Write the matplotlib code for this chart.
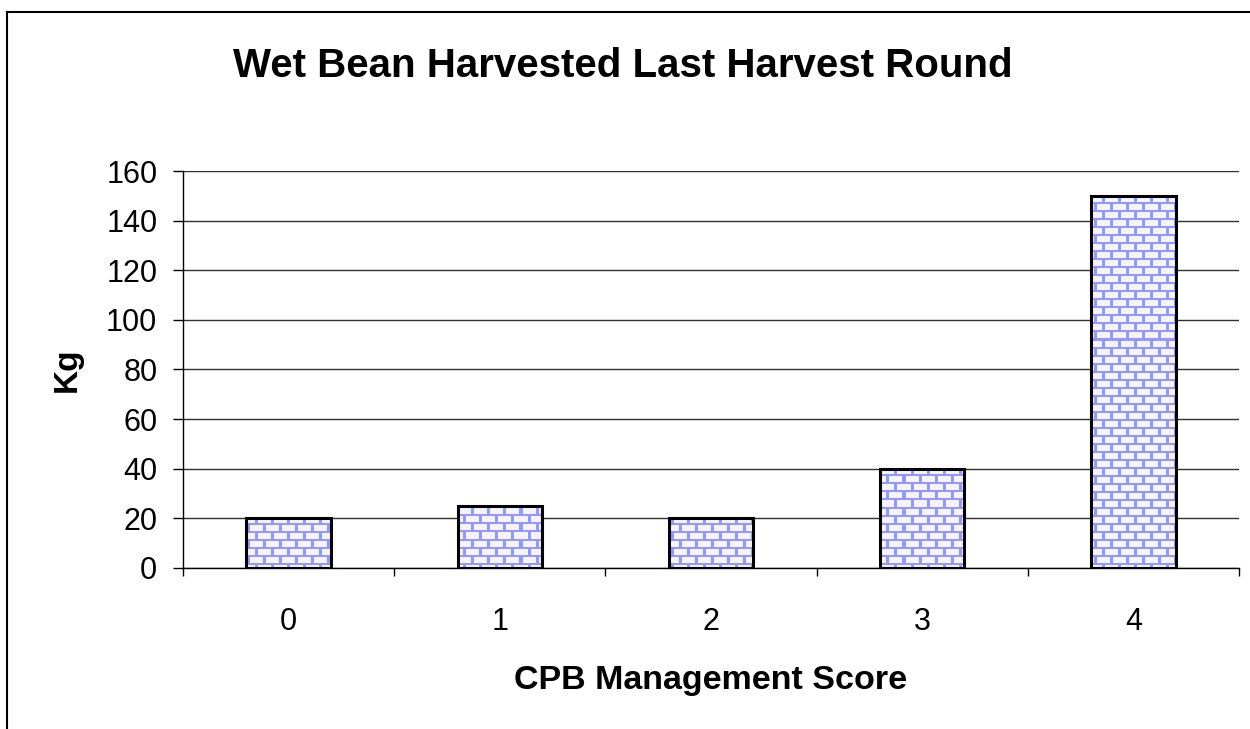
import numpy as np
import matplotlib
matplotlib.use("Agg")
import matplotlib.pyplot as plt
from matplotlib.lines import Line2D

# data
scores = ["0", "1", "2", "3", "4"]
kg = [20, 25, 20, 40, 150]
yticks = [0, 20, 40, 60, 80, 100, 120, 140, 160]

plt.rcParams['font.family'] = ['Liberation Sans', 'DejaVu Sans']

fig = plt.figure(figsize=(12.5, 7.29), dpi=100)
ax = fig.add_axes([0.1464, 0.2209, 0.8448, 0.5445])

x = np.arange(len(scores))
bars = ax.bar(x, kg, width=0.4, facecolor='none', edgecolor='black', linewidth=2.2, zorder=3)

# brick pattern as an image, clipped to each bar
H, W = 397, 1057
tile = np.ones((H, W, 3))
brick = np.array([244, 244, 255]) / 255.0
mortar = np.array([150, 150, 255]) / 255.0
tile[:, :] = brick
rows = np.arange(H)
cols = np.arange(W)
for r in range(H):
    off = 0 if (r // 8) % 2 == 0 else 8
    tile[r, ((cols + off) % 16) < 3] = mortar
tile[(rows % 8) < 2, :] = mortar
for b in bars:
    im = ax.imshow(tile, extent=(-0.5, 4.5, 0, 160), origin='upper',
                   aspect='auto', interpolation='nearest', zorder=2)
    im.set_clip_path(b)
ax.set_xlim(-0.5, 4.5)
ax.set_ylim(0, 160)

ax.set_yticks(yticks)
ax.yaxis.grid(True, color='#303030', linewidth=1.0, zorder=0)
ax.set_axisbelow(True)
ax.set_xticks(x)
ax.set_xticklabels(scores)
ax.set_xticks(np.arange(-0.5, 5.0, 1.0), minor=True)
ax.tick_params(axis='x', which='major', length=0, pad=28, labelsize=22)
ax.tick_params(axis='x', which='minor', length=6, width=1.0, direction='out')
ax.tick_params(axis='y', length=7.5, width=1.0, direction='out', pad=11, labelsize=22)

for s in ['top', 'right']:
    ax.spines[s].set_visible(False)
ax.spines['left'].set_linewidth(1.0)
ax.spines['bottom'].set_linewidth(1.0)

ax.set_ylabel('Kg', fontsize=24, fontweight='bold', labelpad=17)
ax.set_xlabel('CPB Management Score', fontsize=24.5, fontweight='bold', labelpad=20)
fig.text(0.4984, 0.909, 'Wet Bean Harvested Last Harvest Round', fontsize=29,
         fontweight='bold', ha='center', va='center')

# chart border (left and top edges visible)
fig.add_artist(Line2D([0.0058, 0.0058], [0, 0.9835], color='black', linewidth=1.5,
                      transform=fig.transFigure))
fig.add_artist(Line2D([0.0058, 1.0], [0.9835, 0.9835], color='black', linewidth=1.5,
                      transform=fig.transFigure))

fig.savefig('out.png', dpi=100)
